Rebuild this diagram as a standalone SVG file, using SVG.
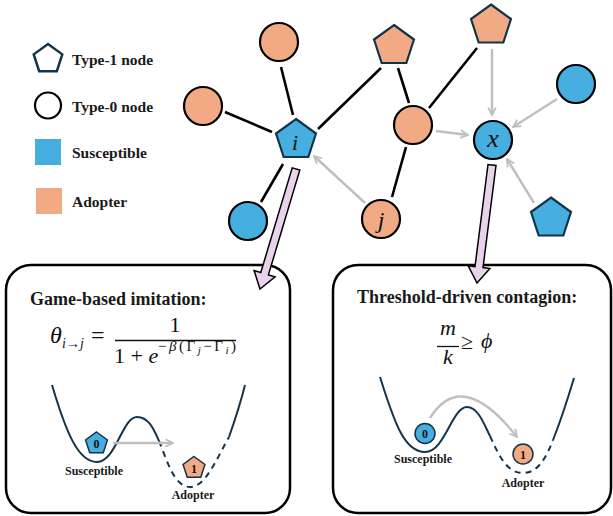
<svg xmlns="http://www.w3.org/2000/svg" xmlns:xlink="http://www.w3.org/1999/xlink" width="613" height="516" viewBox="0 0 613 516">
  <style>
    .sus { fill: #47AFDF; }
    .adp { fill: #F2AA84; }
    .circ { stroke: #000; stroke-width: 2.2; }
    .pent { stroke: #12344A; stroke-width: 2.2; stroke-linejoin: miter; }
    .edge { stroke: #000; stroke-width: 2.6; fill: none; }
    .infl { stroke: #BFBFBF; stroke-width: 2.4; fill: none; marker-end: url(#ga); }
    .big { fill: #E8D3EA; stroke: #000; stroke-width: 1.5; stroke-linejoin: miter; }
    .panel { fill: #fff; stroke: #000; stroke-width: 2.5; }
    .well { fill: none; stroke: #15344A; stroke-width: 2; }
    .lg { font-family: "Liberation Serif", serif; font-weight: bold; font-size: 15.5px; fill: #1a1a1a; }
    .ttl { font-family: "Liberation Serif", serif; font-weight: bold; font-size: 18px; fill: #1a1a1a; }
    .tag { font-family: "Liberation Serif", serif; font-weight: bold; font-size: 12px; fill: #1a1a1a; text-anchor: middle; }
    .num { font-family: "Liberation Serif", serif; font-weight: bold; font-size: 12px; fill: #111; text-anchor: middle; }
    .var { font-family: "Liberation Serif", serif; font-style: italic; fill: #111; text-anchor: middle; }
    .m { font-family: "Liberation Serif", serif; fill: #111; }
    .mi { font-style: italic; }
  </style>
  <defs>
    <polygon id="pent" points="0,-21 19.97,-6.49 12.34,16.99 -12.34,16.99 -19.97,-6.49"/>
    <polygon id="pentS" points="0,-11.5 10.94,-3.55 6.76,9.30 -6.76,9.30 -10.94,-3.55"/>
    <marker id="ga" viewBox="0 0 10 10" refX="9" refY="5" markerWidth="10" markerHeight="10" markerUnits="userSpaceOnUse" orient="auto">
      <path d="M1.5,1.2 L9,5 L1.5,8.8" fill="none" stroke="#BFBFBF" stroke-width="1.8"/>
    </marker>
  </defs>

  <!-- legend -->
  <g id="legend">
    <polygon points="48,44 62.27,54.36 56.82,71.14 39.18,71.14 33.73,54.36" fill="#fff" stroke="#12344A" stroke-width="2.5"/>
    <text class="lg" x="72" y="65">Type-1 node</text>
    <circle cx="48" cy="105.5" r="13" fill="#fff" stroke="#000" stroke-width="2.2"/>
    <text class="lg" x="72" y="112">Type-0 node</text>
    <rect class="sus" x="35" y="139" width="26" height="26"/>
    <text class="lg" x="72" y="158">Susceptible</text>
    <rect class="adp" x="36" y="188" width="26" height="26"/>
    <text class="lg" x="72" y="207">Adopter</text>
  </g>

  <!-- network links -->
  <g id="connectors">
    <line class="edge" x1="281" y1="67" x2="293" y2="115"/>
    <line class="edge" x1="225" y1="112" x2="272" y2="132"/>
    <line class="edge" x1="283" y1="164" x2="261" y2="202"/>
    <line class="edge" x1="318" y1="129" x2="381" y2="68"/>
    <line class="edge" x1="398" y1="68" x2="409" y2="103"/>
    <line class="edge" x1="429" y1="108" x2="477" y2="48"/>
    <line class="edge" x1="406" y1="147" x2="392" y2="197"/>
    <line class="infl" x1="365" y1="203" x2="314" y2="156"/>
    <line class="infl" x1="436" y1="131" x2="468" y2="135"/>
    <line class="infl" x1="492" y1="49" x2="492" y2="115"/>
    <line class="infl" x1="557" y1="99" x2="513" y2="127"/>
    <line class="infl" x1="534" y1="203" x2="507" y2="159"/>
  </g>

  <!-- network nodes -->
  <g id="node-top"><circle class="adp circ" cx="279" cy="42" r="19"/></g>
  <g id="node-left"><circle class="adp circ" cx="203" cy="106" r="19"/></g>
  <g id="node-i">
    <use xlink:href="#pent" x="296" y="140" class="sus pent"/>
    <text class="var" x="295" y="150" style="font-size:22px">i</text>
  </g>
  <g id="node-lower"><circle class="sus circ" cx="248" cy="221" r="19"/></g>
  <g id="node-j">
    <circle class="adp circ" cx="381" cy="219" r="19"/>
    <text class="var" x="381" y="228" style="font-size:24px">j</text>
  </g>
  <g id="node-p1"><use xlink:href="#pent" x="394" y="46" class="adp pent"/></g>
  <g id="node-mid"><circle class="adp circ" cx="413" cy="125" r="19"/></g>
  <g id="node-p2"><use xlink:href="#pent" x="491" y="25.5" class="adp pent"/></g>
  <g id="node-x">
    <circle class="sus circ" cx="493" cy="140" r="19"/>
    <text class="var" x="493" y="147" style="font-size:26px">x</text>
  </g>
  <g id="node-right"><circle class="sus circ" cx="576" cy="84" r="19"/></g>
  <g id="node-p3"><use xlink:href="#pent" x="551" y="218.5" class="sus pent"/></g>

  <!-- left panel: imitation -->
  <g id="panel-imitation">
    <rect class="panel" x="6" y="265" width="284" height="248" rx="25"/>
    <text class="ttl" x="30" y="305">Game-based imitation:</text>
    <text class="m mi" x="50" y="343" style="font-size:24px">θ</text>
    <text class="m mi" x="62" y="348" style="font-size:14px">i<tspan style="font-style:normal">→</tspan>j</text>
    <text class="m" x="91" y="343" style="font-size:24px">=</text>
    <text class="m" x="175" y="332" text-anchor="middle" style="font-size:22px">1</text>
    <line x1="115" y1="340.5" x2="236" y2="340.5" stroke="#111" stroke-width="1.3"/>
    <text class="m" x="114" y="363" style="font-size:22px">1 + <tspan class="mi">e</tspan></text>
    <text class="m" x="158" y="351" style="font-size:15px" textLength="78" lengthAdjust="spacing">−<tspan class="mi">β</tspan>(Γ<tspan class="mi" style="font-size:11px" dy="3">j</tspan><tspan dy="-3">−Γ</tspan><tspan class="mi" style="font-size:11px" dy="3">i</tspan><tspan dy="-3">)</tspan></text>

    <path class="well" d="M52,385 C66,432 78,462 97,462 C116,462 122,417 137,417 C149,417 154,430 159,441"/>
    <path class="well" stroke-dasharray="6,5" d="M159,441 C167,460 174,487 190,487 C205,487 215,462 229,437"/>
    <path class="well" d="M229,437 C235,420 240,405 245,385"/>

    <use xlink:href="#pentS" x="96.5" y="443.5" class="sus" stroke="#12344A" stroke-width="1.5"/>
    <text class="num" x="96.5" y="448">0</text>
    <line class="infl" x1="113" y1="443" x2="173" y2="443"/>
    <use xlink:href="#pentS" x="194" y="468" class="adp" stroke="#12344A" stroke-width="1.5"/>
    <text class="num" x="194" y="472.5">1</text>
    <text class="tag" x="94" y="475">Susceptible</text>
    <text class="tag" x="193" y="499">Adopter</text>
  </g>

  <!-- right panel: threshold -->
  <g id="panel-threshold">
    <rect class="panel" x="333" y="265" width="278" height="248" rx="25"/>
    <text class="ttl" x="357" y="303">Threshold-driven contagion:</text>
    <text class="m mi" x="448" y="335" text-anchor="middle" style="font-size:22px">m</text>
    <line x1="437" y1="346.5" x2="459" y2="346.5" stroke="#111" stroke-width="1.3"/>
    <text class="m mi" x="448" y="364" text-anchor="middle" style="font-size:22px">k</text>
    <text class="m" x="461" y="349" style="font-size:22px">≥</text>
    <text class="m mi" x="481" y="348" style="font-size:22px">ϕ</text>

    <path class="well" d="M380,377 C395,425 405,452 425,452 C445,452 452,407 467,407 C478,407 484,424 490,436"/>
    <path class="well" stroke-dasharray="6,5" d="M490,436 C499,456 507,473 523,473 C538,473 546,458 553,440"/>
    <path class="well" d="M553,440 C561,420 568,398 574,378"/>

    <circle cx="425" cy="433.5" r="10" class="sus" stroke="#12344A" stroke-width="1.5"/>
    <text class="num" x="425" y="438">0</text>
    <path class="infl" d="M430,418 Q462,367 517,437"/>
    <circle cx="523" cy="454" r="10" class="adp" stroke="#12344A" stroke-width="1.5"/>
    <text class="num" x="523" y="458.5">1</text>
    <text class="tag" x="423" y="463">Susceptible</text>
    <text class="tag" x="523" y="487">Adopter</text>
  </g>

  <!-- block arrows from nodes to panels -->
  <g id="arrow-i">
    <polygon class="big" points="299.8,170.1 268.4,274.9 275.1,276.9 260,289 254.1,270.5 260.8,272.5 292.2,167.9"/>
  </g>
  <g id="arrow-x">
    <polygon class="big" points="496,165.5 483,267.6 489.9,268.5 477,283 468.1,265.7 475,266.6 488,164.5"/>
  </g>
</svg>
